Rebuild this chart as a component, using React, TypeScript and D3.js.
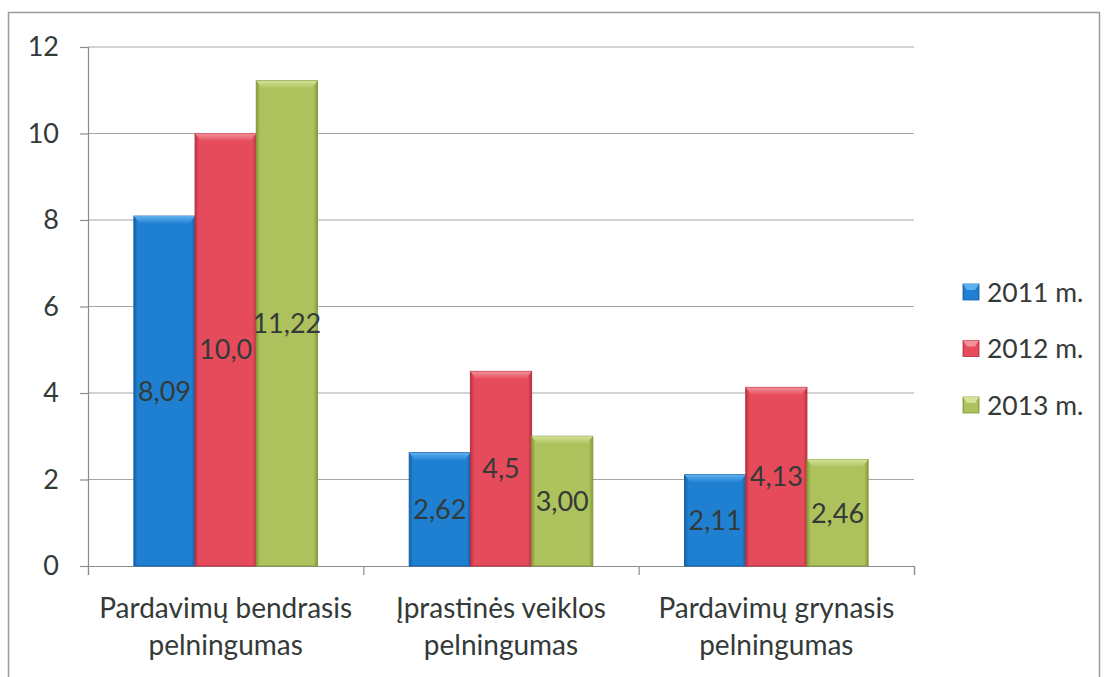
import { useEffect, useRef } from 'react';
import * as d3 from 'd3';

// Chart data
const categories = [
  ['Pardavimų bendrasis', 'pelningumas'],
  ['Įprastinės veiklos', 'pelningumas'],
  ['Pardavimų grynasis', 'pelningumas'],
];
const seriesNames = ['2011 m.', '2012 m.', '2013 m.'];
const values2011 = [8.09, 2.62, 2.11];
const values2012 = [10.0, 4.5, 4.13];
const values2013 = [11.22, 3.0, 2.46];
const labels2011 = ['8,09', '2,62', '2,11'];
const labels2012 = ['10,0', '4,5', '4,13'];
const labels2013 = ['11,22', '3,00', '2,46'];
const yTicks = [0, 2, 4, 6, 8, 10, 12];

const seriesColors = [
  { base: '#1f80d2', light: '#5fb0ee', dark: '#145fa6' },
  { base: '#e64b5c', light: '#f3909a', dark: '#b8313f' },
  { base: '#adc25c', light: '#d3e296', dark: '#84983a' },
];

const FONT = 'Lato, "Noto Sans", sans-serif';
const TEXT = '#333a38';

export default function App() {
  const svgRef = useRef<SVGSVGElement>(null);

  useEffect(() => {
    if (!svgRef.current) return;
    const svg = d3.select(svgRef.current);
    svg.selectAll('*').remove();

    const W = 1106;
    const H = 677;
    const plot = { left: 88, right: 914, top: 47, bottom: 566 };

    const series = [values2011, values2012, values2013];
    const seriesLabels = [labels2011, labels2012, labels2013];

    // Outer frame
    svg.append('rect')
      .attr('x', 8.5).attr('y', 12.5)
      .attr('width', 1091).attr('height', H)
      .attr('fill', '#fff')
      .attr('stroke', '#9a9a9a')
      .attr('stroke-width', 1.5);

    const x = d3.scaleBand<number>()
      .domain(categories.map((_, i) => i))
      .range([plot.left, plot.right]);

    const xs = d3.scaleBand<number>()
      .domain(seriesNames.map((_, i) => i))
      .range([0, x.bandwidth()])
      .paddingInner(0)
      .paddingOuter(0.75);

    const y = d3.scaleLinear()
      .domain([0, 12])
      .range([plot.bottom, plot.top]);

    // Gradients
    const defs = svg.append('defs');
    seriesColors.forEach((c, i) => {
      const g = defs.append('linearGradient')
        .attr('id', `bar-grad-${i}`)
        .attr('x1', '0%').attr('x2', '100%')
        .attr('y1', '0%').attr('y2', '0%');
      g.append('stop').attr('offset', '0%').attr('stop-color', c.dark);
      g.append('stop').attr('offset', '6%').attr('stop-color', c.base);
      g.append('stop').attr('offset', '94%').attr('stop-color', c.base);
      g.append('stop').attr('offset', '100%').attr('stop-color', c.dark);

      const t = defs.append('linearGradient')
        .attr('id', `top-grad-${i}`)
        .attr('x1', '0%').attr('x2', '0%')
        .attr('y1', '0%').attr('y2', '100%');
      t.append('stop').attr('offset', '0%').attr('stop-color', c.light);
      t.append('stop').attr('offset', '100%').attr('stop-color', c.base);
    });

    // Grid lines
    svg.append('g')
      .selectAll('line')
      .data(yTicks.filter(d => d !== 0))
      .enter()
      .append('line')
      .attr('x1', plot.left).attr('x2', plot.right)
      .attr('y1', d => y(d)).attr('y2', d => y(d))
      .attr('stroke', '#a6a6a6')
      .attr('stroke-width', 1.2);

    // Y axis
    const yAxis = svg.append('g')
      .attr('transform', `translate(${plot.left},0)`)
      .call(d3.axisLeft(y).tickValues(yTicks).tickSize(8).tickPadding(21).tickFormat(d => `${d}`));
    yAxis.select('.domain').attr('stroke', '#8c8c8c').attr('stroke-width', 1.2);
    yAxis.selectAll('.tick line').attr('stroke', '#8c8c8c').attr('stroke-width', 1.2);
    yAxis.selectAll('.tick text')
      .attr('font-family', FONT)
      .attr('font-size', 27)
      .attr('fill', TEXT);

    // X axis
    const xAxis = svg.append('g')
      .attr('transform', `translate(0,${plot.bottom})`)
      .call(d3.axisBottom(d3.scaleLinear().domain([0, 3]).range([plot.left, plot.right]))
        .tickValues([0, 1, 2, 3]).tickSize(9).tickFormat(() => ''));
    xAxis.select('.domain').attr('stroke', '#8c8c8c').attr('stroke-width', 1.2);
    xAxis.selectAll('.tick line').attr('stroke', '#8c8c8c').attr('stroke-width', 1.2);

    // Category labels
    const catLabels = svg.append('g')
      .selectAll('text')
      .data(categories)
      .enter()
      .append('text')
      .attr('text-anchor', 'middle')
      .attr('font-family', FONT)
      .attr('font-size', 28)
      .attr('fill', TEXT);
    catLabels.each(function (lines, i) {
      const cx = (x(i) as number) + x.bandwidth() / 2;
      lines.forEach((line, j) => {
        d3.select(this).append('tspan')
          .attr('x', cx)
          .attr('y', 618 + j * 37)
          .text(line);
      });
    });

    // Bars
    series.forEach((vals, s) => {
      const g = svg.append('g');
      vals.forEach((v, i) => {
        const bx = (x(i) as number) + (xs(s) as number);
        const bw = xs.bandwidth();
        const top = y(v);
        const h = y(0) - top;
        const bevel = 6;
        g.append('rect')
          .attr('x', bx).attr('y', top)
          .attr('width', bw).attr('height', h)
          .attr('fill', `url(#bar-grad-${s})`)
          .attr('stroke', seriesColors[s].dark)
          .attr('stroke-width', 1);
        g.append('path')
          .attr('d', `M${bx},${top}L${bx + bw},${top}L${bx + bw - bevel},${top + bevel + 2}L${bx + bevel},${top + bevel + 2}Z`)
          .attr('fill', `url(#top-grad-${s})`);
        // Data label
        g.append('text')
          .attr('x', bx + bw / 2)
          .attr('y', top + h / 2)
          .attr('dy', '0.36em')
          .attr('text-anchor', 'middle')
          .attr('font-family', FONT)
          .attr('font-size', 27)
          .attr('fill', TEXT)
          .text(seriesLabels[s][i]);
      });
    });

    // Legend
    const legend = svg.append('g')
      .selectAll('g')
      .data(seriesNames)
      .enter()
      .append('g')
      .attr('transform', (_, i) => `translate(963,${292 + i * 56.5})`);
    legend.append('rect')
      .attr('x', 0).attr('y', -8)
      .attr('width', 16).attr('height', 16)
      .attr('fill', (_, i) => `url(#bar-grad-${i})`)
      .attr('stroke', (_, i) => seriesColors[i].dark)
      .attr('stroke-width', 0.8);
    legend.append('path')
      .attr('d', 'M0,-8L16,-8L12,-2L4,-2Z')
      .attr('fill', (_, i) => seriesColors[i].light);
    legend.append('text')
      .attr('x', 24)
      .attr('y', 0)
      .attr('dy', '0.36em')
      .attr('font-family', FONT)
      .attr('font-size', 26.5)
      .attr('fill', TEXT)
      .text(d => d);

    svg.attr('width', W).attr('height', H);
  }, []);

  return (
    <div style={{ position: 'absolute', left: 0, top: 0 }}>
      <svg ref={svgRef} width={1106} height={677} style={{ display: 'block', background: '#fff' }} />
    </div>
  );
}
